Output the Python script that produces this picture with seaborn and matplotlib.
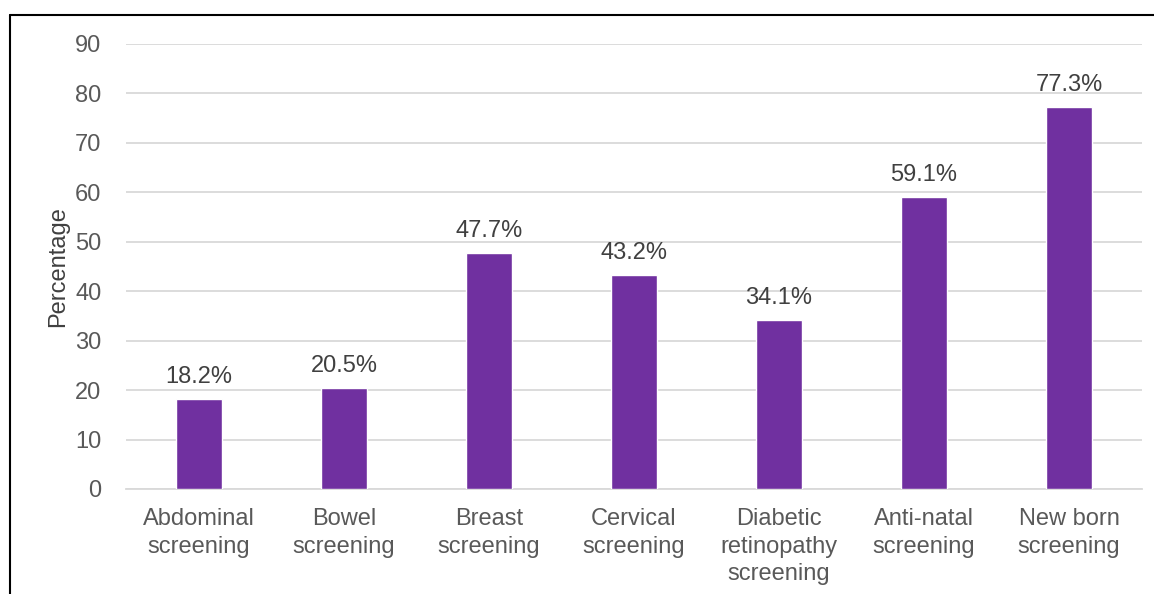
import seaborn as sns
import pandas as pd
import matplotlib.pyplot as plt
from matplotlib.lines import Line2D

categories = ["Abdominal\nscreening", "Bowel\nscreening", "Breast\nscreening",
              "Cervical\nscreening", "Diabetic\nretinopathy\nscreening",
              "Anti-natal\nscreening", "New born\nscreening"]
percentages = [18.2, 20.5, 47.7, 43.2, 34.1, 59.1, 77.3]
y_ticks = [0, 10, 20, 30, 40, 50, 60, 70, 80, 90]

sns.set_style("white")
plt.rcParams['font.family'] = ['Liberation Sans', 'DejaVu Sans']

df = pd.DataFrame({"category": categories, "pct": percentages})

fig = plt.figure(figsize=(11.54, 5.94), dpi=100)
ax = fig.add_axes([0.1096, 0.1768, 0.8796, 0.7492])

sns.barplot(data=df, x="category", y="pct", color="#7030A0", width=0.32,
            saturation=1, ax=ax, zorder=3)

for i, v in enumerate(percentages):
    ax.annotate(f"{v}%", (i, v), xytext=(0, 8), textcoords="offset points",
                ha="center", va="bottom", fontsize=17, color="#404040")

ax.set_ylim(0, 90)
ax.set_yticks(y_ticks)
ax.set_xlim(-0.5, len(categories) - 0.5)
ax.yaxis.grid(True, color="#D9D9D9", linewidth=1.3, zorder=0)
ax.set_axisbelow(True)
for side in ["top", "right", "left"]:
    ax.spines[side].set_visible(False)
ax.spines["bottom"].set_color("#D9D9D9")
ax.spines["bottom"].set_linewidth(1.3)

ax.tick_params(axis="both", length=0, labelsize=17, labelcolor="#595959")
ax.tick_params(axis="y", pad=18)
ax.tick_params(axis="x", pad=14)
for lbl in ax.get_xticklabels():
    lbl.set_linespacing(1.3)
ax.set_xlabel("")
ax.set_ylabel("Percentage", fontsize=17, color="#404040", labelpad=4)

# outer frame
fig.add_artist(Line2D([10 / 1154, 10 / 1154], [0, 1 - 15 / 594],
                      transform=fig.transFigure, color="black", linewidth=1.5))
fig.add_artist(Line2D([10 / 1154, 1], [1 - 15 / 594, 1 - 15 / 594],
                      transform=fig.transFigure, color="black", linewidth=1.5))

plt.savefig("out.png", dpi=100)
